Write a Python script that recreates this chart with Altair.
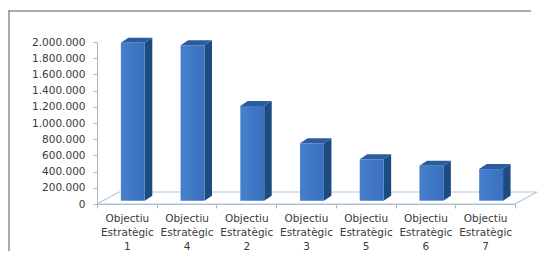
import altair as alt
import pandas as pd

# ---- data ----
categories = ["Objectiu|Estratègic|1", "Objectiu|Estratègic|4", "Objectiu|Estratègic|2",
              "Objectiu|Estratègic|3", "Objectiu|Estratègic|5", "Objectiu|Estratègic|6",
              "Objectiu|Estratègic|7"]
values = [1950000, 1920000, 1170000, 710000, 510000, 430000, 390000]
y_ticks = [0, 200000, 400000, 600000, 800000, 1000000, 1200000, 1400000,
           1600000, 1800000, 2000000]

# ---- style / 3D geometry constants ----
W, H = 418, 162
YMAX = 2000000
N = len(categories)
BAND_PX = W / N
BASE = 41000          # bar sits slightly behind floor front edge
FL = 0.40             # front face left within band
FR = 0.80             # front face right within band
BD = 0.126            # bar depth (x units)
BDV = 62000           # bar depth (value units)
FD = 0.368            # floor depth (x units)
FDV = 148000          # floor depth (value units)

SIDE = "#1c4b82"
TOP = "#2b5c9f"
FLOOR = "#b4c6d6"
AXIS = "#a9b9c8"
TXT = "#3a3a3a"

rows_front, rows_side, rows_top = [], [], []
for i, v in enumerate(values):
    l, r = i + FL, i + FR
    rows_front.append({"bar": i, "x": l, "x2": r, "y": BASE, "y2": BASE + v})
    rows_side.append({"bar": i, "x": r, "y": BASE, "y2": BASE + v})
    rows_side.append({"bar": i, "x": r + BD, "y": BASE + BDV, "y2": BASE + v + BDV})
    rows_top.append({"bar": i, "y": BASE + v, "x": l, "x2": r})
    rows_top.append({"bar": i, "y": BASE + v + BDV, "x": l + BD, "x2": r + BD})

floor = pd.DataFrame([
    {"o": 0, "x": 0, "y": 0},
    {"o": 1, "x": N, "y": 0},
    {"o": 2, "x": N + FD, "y": FDV},
    {"o": 3, "x": FD, "y": FDV},
    {"o": 4, "x": 0, "y": 0},
])

xscale = alt.Scale(domain=[0, N], nice=False, zero=False)
yscale = alt.Scale(domain=[0, YMAX], nice=False)

label_arr = "[" + ",".join("'" + c + "'" for c in categories) + "]"
x_axis = alt.Axis(
    values=list(range(N + 1)),
    labelExpr=f"datum.value < {N} ? split({label_arr}[datum.value], '|') : ''",
    labelOffset=BAND_PX / 2,
    labelFont="DejaVu Sans", labelFontSize=10.5, labelColor=TXT,
    labelLineHeight=14.2, labelPadding=5, labelBaseline="top",
    tickSize=4, tickColor=AXIS, domainColor=AXIS, domainWidth=1,
    grid=False, title=None, labelFlush=False, labelOverlap=False,
)
y_axis = alt.Axis(
    values=y_ticks,
    labelExpr="replace(format(datum.value, ',d'), regexp(',', 'g'), '.')",
    labelFont="DejaVu Sans", labelFontSize=10.5, labelColor=TXT,
    labelPadding=8, tickSize=4, tickColor=AXIS, domainColor=AXIS,
    grid=False, title=None, labelOverlap=False, labelFlush=False,
)

X = lambda f: alt.X(f, scale=xscale, axis=x_axis)
Y = lambda f: alt.Y(f, scale=yscale, axis=y_axis)

floor_layer = alt.Chart(floor).mark_line(color=FLOOR, strokeWidth=1.2).encode(
    x=X("x:Q"), y=Y("y:Q"), order="o:O",
)

front = alt.Chart(pd.DataFrame(rows_front)).mark_rect(
    color=alt.Gradient(gradient="linear", x1=0, x2=1, y1=0, y2=0,
                       stops=[alt.GradientStop(color="#4680cc", offset=0),
                              alt.GradientStop(color="#3a70be", offset=1)])
).encode(x=X("x:Q"), x2="x2:Q", y=Y("y:Q"), y2="y2:Q")

side = alt.Chart(pd.DataFrame(rows_side)).mark_area(color=SIDE, orient="vertical").encode(
    x=X("x:Q"), y=Y("y:Q"), y2="y2:Q", detail="bar:N"
)

top = alt.Chart(pd.DataFrame(rows_top)).mark_area(color=TOP, orient="horizontal").encode(
    y=Y("y:Q"), x=X("x:Q"), x2="x2:Q", detail="bar:N"
)

frame = alt.Chart(pd.DataFrame({"a": [0]})).mark_rule(color="#8e8e8e", strokeWidth=1.5).encode(
    x=alt.value(-89), x2=alt.value(434), y=alt.value(-31)
)
frame_left = alt.Chart(pd.DataFrame({"a": [0]})).mark_rule(color="#8e8e8e", strokeWidth=1.5).encode(
    x=alt.value(-88), y=alt.value(-31), y2=alt.value(260)
)

chart = alt.layer(floor_layer, side, top, front, frame, frame_left).properties(
    width=W, height=H,
    autosize=alt.AutoSizeParams(type="none"),
    padding={"left": 89, "top": 34, "right": 34, "bottom": 47},
    background="white",
).configure_view(stroke=None).configure_axis(labelOverlap=False)

chart.save("out.html", embed_options={"renderer": "svg", "actions": False})
